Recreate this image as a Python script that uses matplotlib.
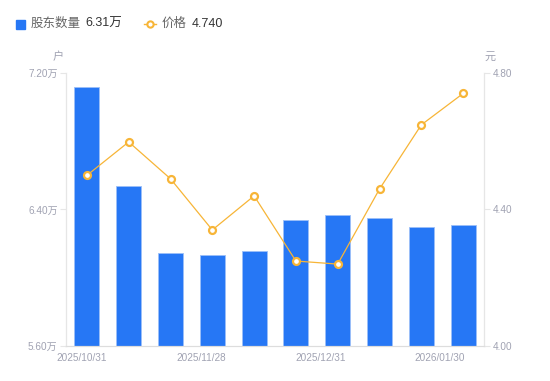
import numpy as np
import matplotlib
matplotlib.use("Agg")
import matplotlib.pyplot as plt
from matplotlib.lines import Line2D

plt.rcParams['font.family'] = ['Liberation Sans', 'Noto Sans CJK SC', 'DejaVu Sans']

# data
holders = [7.118, 6.538, 6.145, 6.133, 6.157, 6.338, 6.368, 6.350, 6.297, 6.310]  # 万户
price = [4.500, 4.598, 4.490, 4.340, 4.440, 4.249, 4.240, 4.460, 4.648, 4.740]     # 元
date_labels = ['2025/10/31', '2025/11/28', '2025/12/31', '2026/01/30']
left_ticks = [5.60, 6.40, 7.20]
right_ticks = [4.00, 4.40, 4.80]

blue = '#2677f5'
orange = '#f7b537'
gray_txt = '#a0a2b2'
axis_col = '#e6e6e6'

fig = plt.figure(figsize=(5.5, 3.81), dpi=100)
ax = fig.add_axes([66 / 550, 35 / 381, 418 / 550, 273 / 381])
ax2 = ax.twinx()

x = np.arange(len(holders))
ax.bar(x, holders, width=0.6, color=blue, edgecolor='#9cbff8', linewidth=0.6, zorder=2)
ax.set_xlim(-0.5, len(holders) - 0.5)
ax.set_ylim(left_ticks[0], left_ticks[-1])
ax.set_yticks(left_ticks)
ax.set_yticklabels([f'{v:.2f}万' for v in left_ticks])

ax2.plot(x, price, color=orange, linewidth=0.9, marker='o', markersize=5,
         markerfacecolor='white', markeredgecolor=orange, markeredgewidth=1.6, zorder=3)
ax2.set_ylim(right_ticks[0], right_ticks[-1])
ax2.set_yticks(right_ticks)
ax2.set_yticklabels([f'{v:.2f}' for v in right_ticks])

# date labels spread evenly under the axis
ax.set_xticks(np.linspace(-0.12, 8.45, len(date_labels)))
ax.set_xticklabels(date_labels)

for a in (ax, ax2):
    a.tick_params(axis='y', length=4, width=0.8, color=axis_col, labelsize=7.2,
                  labelcolor=gray_txt, pad=2)
    a.tick_params(axis='x', length=0, labelsize=7.2, labelcolor=gray_txt, pad=5)
    a.spines['top'].set_visible(False)
    a.spines['left'].set_color(axis_col)
    a.spines['right'].set_color(axis_col)
    a.spines['bottom'].set_color('#dddddd')
ax2.set_zorder(ax.get_zorder() + 1)
ax2.patch.set_visible(False)

# units
fig.text(58 / 550, 1 - 57 / 381, '户', fontsize=8, color=gray_txt, ha='center', va='center')
fig.text(490 / 550, 1 - 57 / 381, '元', fontsize=8, color=gray_txt, ha='center', va='center')

# header legend
ly = 1 - 24 / 381
fig.patches.append(plt.Rectangle((16 / 550, ly - 4.5 / 381), 9 / 550, 9 / 381,
                                 transform=fig.transFigure, color=blue))
fig.text(31 / 550, ly, '股东数量', fontsize=9, color='#666666', va='center')
fig.text(85 / 550, ly, f'{holders[-1]:.2f}万', fontsize=9, color='#333333', va='center')
fig.lines.append(Line2D([144 / 550, 156 / 550], [ly, ly], transform=fig.transFigure,
                        color=orange, linewidth=1))
fig.lines.append(Line2D([150 / 550], [ly], transform=fig.transFigure, color=orange,
                        marker='o', markersize=4.5, markerfacecolor='white',
                        markeredgewidth=1.5))
fig.text(162 / 550, ly, '价格', fontsize=9, color='#666666', va='center')
fig.text(192 / 550, ly, f'{price[-1]:.3f}', fontsize=9, color='#333333', va='center')

fig.savefig('out.png', dpi=100)
